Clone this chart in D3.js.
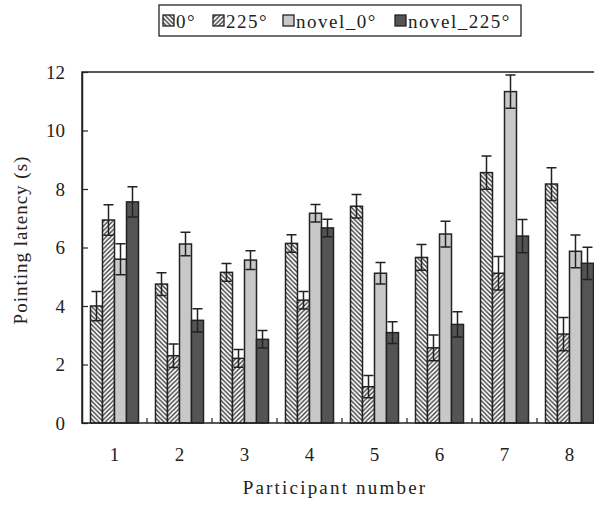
<!DOCTYPE html>
<html>
<head>
<meta charset="utf-8">
<script src="https://cdn.jsdelivr.net/npm/d3@7"></script>
<style>
  body { margin: 0; background: #fff; }
  text { font-family: "Liberation Serif", "Times New Roman", serif; fill: #222; }
</style>
</head>
<body>
<div id="chart"></div>
<script>
// data
var participants = ["1", "2", "3", "4", "5", "6", "7", "8"];
var seriesNames = ["0°", "225°", "novel_0°", "novel_225°"];

var deg0      = [4.00, 4.75, 5.15, 6.14, 7.41, 5.66, 8.56, 8.17];
var deg225    = [6.94, 2.30, 2.21, 4.20, 1.24, 2.57, 5.12, 3.04];
var novel0    = [5.60, 6.12, 5.57, 7.17, 5.12, 6.46, 11.33, 5.87];
var novel225  = [7.56, 3.51, 2.86, 6.67, 3.09, 3.37, 6.39, 5.46];

var err0      = [0.50, 0.39, 0.30, 0.30, 0.40, 0.44, 0.57, 0.56];
var err225    = [0.52, 0.40, 0.30, 0.30, 0.38, 0.44, 0.57, 0.57];
var errNovel0 = [0.53, 0.40, 0.32, 0.30, 0.37, 0.44, 0.57, 0.56];
var errNovel225 = [0.52, 0.40, 0.30, 0.30, 0.37, 0.43, 0.57, 0.55];

var yTicks = [0, 2, 4, 6, 8, 10, 12];

var values = [deg0, deg225, novel0, novel225];
var errors = [err0, err225, errNovel0, errNovel225];
var fills = ["url(#hatchBack)", "url(#hatchFwd)", "#c8c8c8", "#545454"];

var width = 594, height = 506;
var plotLeft = 82, plotRight = 602, plotTop = 72, plotBottom = 423;
var fontSize = 19;

var svg = d3.select("#chart")
    .append("svg")
    .attr("width", width)
    .attr("height", height);

// hatch patterns
var defs = svg.append("defs");
var s = 4.5;
defs.append("pattern")
    .attr("id", "hatchBack")
    .attr("patternUnits", "userSpaceOnUse")
    .attr("width", s).attr("height", s)
    .call(function(p) {
        p.append("rect").attr("width", s).attr("height", s).attr("fill", "#fff");
        p.append("path")
            .attr("d", "M0,0L" + s + "," + s + "M-1," + (s - 1) + "L1," + (s + 1) + "M" + (s - 1) + ",-1L" + (s + 1) + ",1")
            .attr("stroke", "#333").attr("stroke-width", 1.3);
    });
defs.append("pattern")
    .attr("id", "hatchFwd")
    .attr("patternUnits", "userSpaceOnUse")
    .attr("width", s).attr("height", s)
    .call(function(p) {
        p.append("rect").attr("width", s).attr("height", s).attr("fill", "#fff");
        p.append("path")
            .attr("d", "M0," + s + "L" + s + ",0M-1,1L1,-1M" + (s - 1) + "," + (s + 1) + "L" + (s + 1) + "," + (s - 1))
            .attr("stroke", "#333").attr("stroke-width", 1.3);
    });

// scales
var x0 = d3.scaleBand()
    .domain(participants)
    .range([plotLeft, plotRight]);

var x1 = d3.scaleBand()
    .domain(seriesNames)
    .range([8.5, x0.bandwidth() - 8.5]);

var y = d3.scaleLinear()
    .domain([0, 12])
    .range([plotBottom, plotTop]);

// bars
var groups = svg.selectAll(".group")
    .data(participants)
    .enter()
    .append("g")
    .attr("class", "group")
    .attr("transform", function(d) { return "translate(" + x0(d) + ",0)"; });

seriesNames.forEach(function(name, si) {
    groups.append("rect")
        .attr("x", x1(name))
        .attr("y", function(d, i) { return y(values[si][i]); })
        .attr("width", x1.bandwidth())
        .attr("height", function(d, i) { return y(0) - y(values[si][i]); })
        .attr("fill", fills[si])
        .attr("stroke", "#222")
        .attr("stroke-width", 1.5);
});

// error bars
var cap = 5;
seriesNames.forEach(function(name, si) {
    var cx = x1(name) + x1.bandwidth() / 2;
    groups.append("path")
        .attr("d", function(d, i) {
            var hi = y(values[si][i] + errors[si][i]);
            var lo = y(values[si][i] - errors[si][i]);
            return "M" + cx + "," + hi + "L" + cx + "," + lo +
                "M" + (cx - cap) + "," + hi + "L" + (cx + cap) + "," + hi +
                "M" + (cx - cap) + "," + lo + "L" + (cx + cap) + "," + lo;
        })
        .attr("fill", "none")
        .attr("stroke", "#222")
        .attr("stroke-width", 1.5);
});

// frame
svg.append("rect")
    .attr("x", plotLeft).attr("y", plotTop)
    .attr("width", plotRight - plotLeft).attr("height", plotBottom - plotTop)
    .attr("fill", "none")
    .attr("stroke", "#222")
    .attr("stroke-width", 1.5);

// y axis
var yAxis = d3.axisLeft(y)
    .tickValues(yTicks)
    .tickSizeInner(-6)
    .tickSizeOuter(0)
    .tickPadding(17);

svg.append("g")
    .attr("transform", "translate(" + plotLeft + ",0)")
    .call(yAxis)
    .call(function(g) {
        g.select(".domain").attr("stroke", "#222").attr("stroke-width", 1.5);
        g.selectAll(".tick line").attr("stroke", "#222").attr("stroke-width", 1.2);
        g.selectAll(".tick text")
            .attr("font-size", fontSize)
            .attr("fill", "#222");
    });

// x axis: labels centred, ticks at the band boundaries
var xAxis = d3.axisBottom(x0)
    .tickSize(0)
    .tickPadding(25);

svg.append("g")
    .attr("transform", "translate(0," + plotBottom + ")")
    .call(xAxis)
    .call(function(g) {
        g.select(".domain").remove();
        g.selectAll(".tick text")
            .attr("font-size", fontSize)
            .attr("fill", "#222");
    });

svg.append("g")
    .selectAll("line")
    .data(participants.slice(1))
    .enter()
    .append("line")
    .attr("x1", function(d) { return x0(d); })
    .attr("x2", function(d) { return x0(d); })
    .attr("y1", plotBottom)
    .attr("y2", plotBottom - 5)
    .attr("stroke", "#222")
    .attr("stroke-width", 1.2);

// axis titles
svg.append("text")
    .attr("x", 335)
    .attr("y", 494)
    .attr("text-anchor", "middle")
    .attr("font-size", fontSize)
    .style("letter-spacing", "2.2px")
    .text("Participant number");

svg.append("text")
    .attr("transform", "translate(27,240) rotate(-90)")
    .attr("text-anchor", "middle")
    .attr("font-size", fontSize)
    .style("letter-spacing", "1px")
    .text("Pointing latency (s)");

// legend
var legendX = [163, 213, 283, 395];
var legend = svg.append("g");
legend.append("rect")
    .attr("x", 159).attr("y", 5)
    .attr("width", 362).attr("height", 31)
    .attr("fill", "#fff")
    .attr("stroke", "#222")
    .attr("stroke-width", 1.3);

var items = legend.selectAll(".item")
    .data(seriesNames)
    .enter()
    .append("g")
    .attr("class", "item")
    .attr("transform", function(d, i) { return "translate(" + legendX[i] + ",0)"; });

items.append("rect")
    .attr("x", 0).attr("y", 15)
    .attr("width", 11).attr("height", 11)
    .attr("fill", function(d, i) { return fills[i]; })
    .attr("stroke", "#222")
    .attr("stroke-width", 1.3);

items.append("text")
    .attr("x", 13)
    .attr("y", 28)
    .attr("font-size", fontSize)
    .style("letter-spacing", "1.5px")
    .text(function(d) { return d; });
</script>
</body>
</html>
